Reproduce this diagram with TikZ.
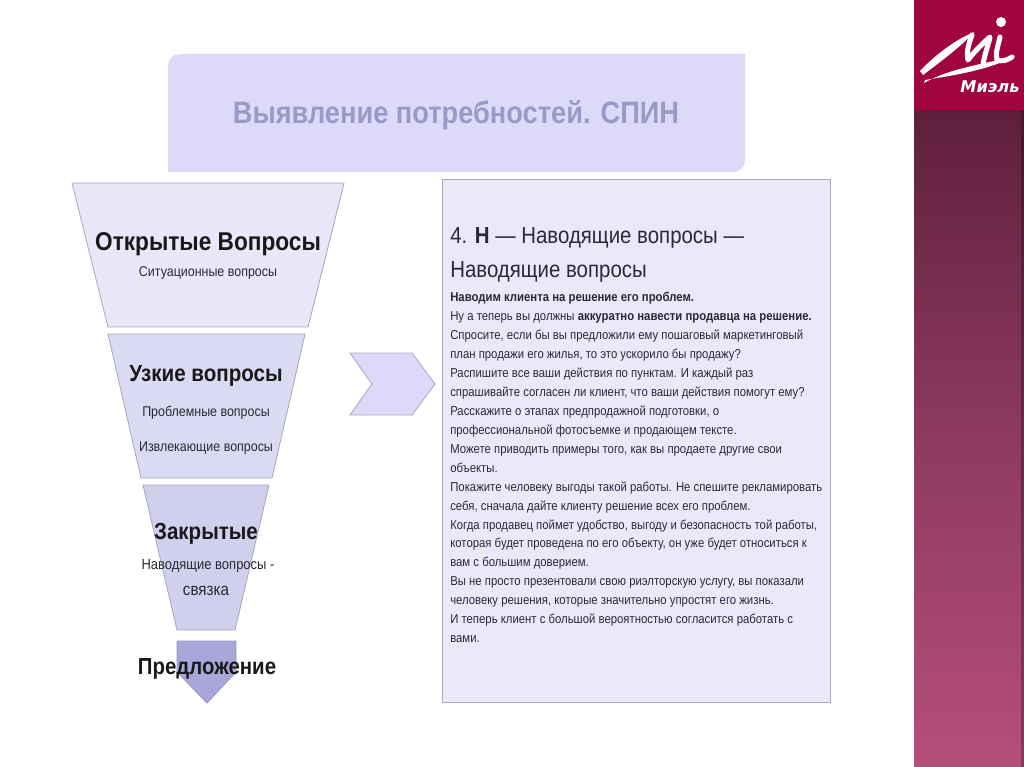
\documentclass[tikz,border=0pt]{standalone}
\usepackage{fontspec}
\setmainfont{Liberation Sans}[FakeStretch=0.88]
\newfontfamily\brandfont{DejaVu Sans}
\usepackage{tikz}
\definecolor{stripred}{HTML}{A0053F}
\definecolor{stripdark}{HTML}{5E1F3C}
\definecolor{stripmid}{HTML}{8E3A60}
\definecolor{striplight}{HTML}{B64E7B}
\definecolor{panel}{HTML}{E9E9FB}
\definecolor{funnelA}{HTML}{E8E8FA}
\definecolor{funnelB}{HTML}{DADAF3}
\definecolor{funnelC}{HTML}{D0D0EE}
\definecolor{funnelD}{HTML}{A9A7DA}
\definecolor{edgegray}{HTML}{A9A9BE}
\definecolor{titlefill}{HTML}{DCDAF8}
\definecolor{titletext}{HTML}{9B99C8}
\definecolor{bodytext}{HTML}{2A2A32}
\begin{document}
\begin{tikzpicture}[
  x=0.025cm, y=-0.025cm,
  shape1/.style={draw=edgegray, line width=0.6pt, fill=#1},
  head/.style={font=\fontsize{#1}{22}\selectfont\bfseries, text=black!90, inner sep=0pt},
  sub/.style={font=\fontsize{#1}{13}\selectfont, text=bodytext, inner sep=0pt, align=center},
  logostroke/.style={draw=white, line width=#1, line cap=round, line join=round},
]
  \useasboundingbox (0,0) rectangle (1024,767);

  % --- right strip and logo ----------------------------------------
  \shade[top color=stripdark, bottom color=striplight, middle color=stripmid]
    (914,110) rectangle (1024,767);
  \fill[black, opacity=0.25] (1021,110) rectangle (1024,767);
  \fill[stripred] (914,0) rectangle (1024,110);
  \fill[white] (920,71) .. controls (935,55) and (955,40) .. (974,32)
    .. controls (962,46) and (940,62) .. (923,75) -- cycle;
  \draw[logostroke=3.6pt] (972,35) .. controls (969,43) and (966,52) .. (968,60)
    .. controls (974,52) and (982,44) .. (990,37)
    .. controls (988,46) and (984,56) .. (983,65);
  \draw[logostroke=3.6pt] (1000,37) .. controls (998,46) and (995,54) .. (997,60)
    .. controls (1002,62) and (1008,60) .. (1012,57);
  \fill[white] (924,83) .. controls (950,68) and (985,64) .. (1015,56)
    .. controls (990,70) and (950,76) .. (925,80) -- cycle;
  \fill[white] (1001,22) circle[radius=5];
  \node[font=\fontsize{11.5}{12}\selectfont\brandfont\bfseries\itshape, text=white, inner sep=0pt] (brand)
    at (990,87) {Миэль};

  % --- title -------------------------------------------------------
  \fill[titlefill] (168,172) -- (168,66) .. controls (168,59) and (173,54) .. (180,54)
    -- (745,54) -- (745,160) .. controls (745,167) and (740,172) .. (733,172) -- cycle;
  \node[font=\fontsize{22}{26}\selectfont\bfseries, text=titletext, inner sep=0pt] (title)
    at (456,115) {Выявление потребностей. СПИН};

  % --- funnel ------------------------------------------------------
  \draw[shape1=funnelA] (72,183) -- (344,183) -- (308,327) -- (108,327) -- cycle;
  \draw[shape1=funnelB] (108,334) -- (305,334) -- (272,478) -- (141,478) -- cycle;
  \draw[shape1=funnelC] (143,485) -- (269,485) -- (235,630) -- (177,630) -- cycle;
  \draw[draw=funnelD!90!black, line width=0.6pt, fill=funnelD]
    (177,641) -- (236,641) -- (236,672) -- (207,703) -- (177,672) -- cycle;

  \node[head=18.3] (open) at (208,244) {Открытые Вопросы};
  \node[sub=10.06] (openSub) at (208,273) {Ситуационные вопросы};
  \node[head=16.6] (narrow) at (206,376) {Узкие вопросы};
  \node[sub=10.06] (narrowA) at (206,413) {Проблемные вопросы};
  \node[sub=10.06] (narrowB) at (206,448) {Извлекающие вопросы};
  \node[head=16.6] (closed) at (206,534) {Закрытые};
  \node[sub=10.5] (closedA) at (208,566) {Наводящие вопросы -};
  \node[sub=12.3] (closedB) at (206,591) {связка};
  \node[head=16.5] (offer) at (207,669) {Предложение};

  % --- chevron -----------------------------------------------------
  \draw[shape1=titlefill] (350,353) -- (412,353) -- (435,384) -- (412,415) -- (350,415) -- (372,384) -- cycle;

  % --- text panel --------------------------------------------------
  \draw[shape1=panel] (442,179) rectangle (830,702);
  \node[anchor=north west, inner sep=0pt, align=left, text=bodytext,
        font=\fontsize{16.5}{24.5}\selectfont] (panelHead) at (450,227)
    {4. \textbf{Н} — Наводящие вопросы —\\Наводящие вопросы};
  \node[anchor=north west, inner sep=0pt, align=left, text=bodytext,
        font=\fontsize{9.17}{13.47}\selectfont] (panelBody) at (450,292)
    {\textbf{Наводим клиента на решение его проблем.}\\
     Ну а теперь вы должны \textbf{аккуратно навести продавца на решение.}\\
     Спросите, если бы вы предложили ему пошаговый маркетинговый\\
     план продажи его жилья, то это ускорило бы продажу?\\
     Распишите все ваши действия по пунктам. И каждый раз\\
     спрашивайте согласен ли клиент, что ваши действия помогут ему?\\
     Расскажите о этапах предпродажной подготовки, о\\
     профессиональной фотосъемке и продающем тексте.\\
     Можете приводить примеры того, как вы продаете другие свои\\
     объекты.\\
     Покажите человеку выгоды такой работы. Не спешите рекламировать\\
     себя, сначала дайте клиенту решение всех его проблем.\\
     Когда продавец поймет удобство, выгоду и безопасность той работы,\\
     которая будет проведена по его объекту, он уже будет относиться к\\
     вам с большим доверием.\\
     Вы не просто презентовали свою риэлторскую услугу, вы показали\\
     человеку решения, которые значительно упростят его жизнь.\\
     И теперь клиент с большой вероятностью согласится работать с\\
     вами.};
\end{tikzpicture}
\end{document}
